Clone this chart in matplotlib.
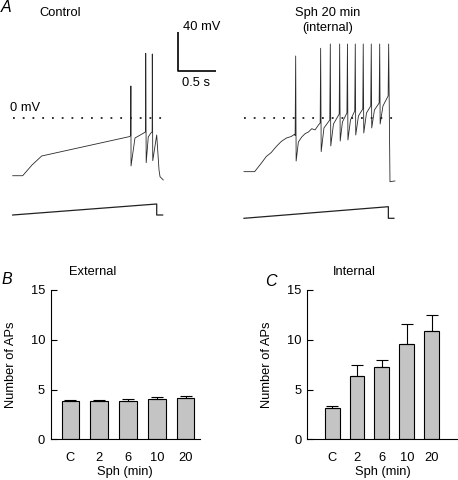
import matplotlib
matplotlib.use('Agg')
import matplotlib.pyplot as plt
import numpy as np

plt.rcParams['font.family'] = ['Liberation Sans', 'DejaVu Sans']
FS = 9.3

# ---- panel A: voltage traces (s, mV) ----
ctl_t = [0.000, 0.129, 0.250, 0.375, 1.508, 1.527, 1.529, 1.531, 1.582, 1.690,
         1.719, 1.721, 1.727, 1.754, 1.785, 1.804, 1.806, 1.812, 1.863, 1.893, 1.906, 1.948]
ctl_v = [-59.4, -59.4, -48.3, -39.0, -19.0, -18.0, 33.4, -49.3, -20.4, -15.5,
         -14.0, 67.2, -45.9, -19.3, -15.5, -14.0, 66.5, -43.8, -17.3, -53.5, -60.4, -63.8]

sph_t = [0.000, 0.138, 0.224, 0.288, 0.353, 0.418, 0.482, 0.547, 0.612, 0.656, 0.662,
         0.669, 0.675, 0.704, 0.748, 0.791, 0.834, 0.877, 0.920, 0.963, 0.986,
         0.992, 0.999, 1.035, 1.110, 1.117, 1.123, 1.158, 1.232, 1.238, 1.245,
         1.274, 1.332, 1.339, 1.345, 1.378, 1.433, 1.440, 1.446, 1.481, 1.537,
         1.543, 1.550, 1.585, 1.640, 1.647, 1.653, 1.688, 1.749, 1.756, 1.762,
         1.798, 1.865, 1.872, 1.889, 1.953]
sph_v = [-55.2, -55.2, -46.5, -39.6, -35.4, -29.2, -24.0, -20.5, -18.8, -16.5, -17.8,
         64.4, -44.2, -24.5, -19.3, -15.9, -14.2, -10.8, -12.0, -7.0, -4.9,
         72.4, -34.5, -10.0, -1.8, 76.8, -28.6, -5.9, 4.4, 76.8, -23.5,
         -3.8, 5.5, 76.8, -22.4, -1.8, 7.5, 76.8, -17.3, 2.4, 9.6,
         76.8, -15.2, 5.5, 12.7, 76.8, -10.0, 8.6, 15.8, 76.8, -5.9,
         12.7, 23.1, 76.8, -65.6, -64.8]
sph_offset = 2.992  # s, start of second trace on the shared time axis

# current ramp command (normalised)
ramp_ctl_t = [0.0, 1.863, 1.863, 1.940]
ramp_ctl = [0.0, 1.0, 0.0, 0.0]
ramp_sph_t = [0.0, 1.868, 1.868, 1.940]
ramp_sph = [-0.3, 0.755, -0.3, -0.3]

# ---- panels B, C ----
cats = ['C', '2', '6', '10', '20']
ext_mean = [3.86, 3.86, 3.86, 4.0, 4.16]
ext_err = [0.1, 0.1, 0.22, 0.3, 0.17]
int_mean = [3.11, 6.33, 7.3, 9.57, 10.91]
int_err = [0.27, 1.1, 0.63, 2.0, 1.6]

W, H = 458, 480
fig = plt.figure(figsize=(W / 100, H / 100), dpi=100)


def ftext(x, y, s, **kw):
    kw.setdefault('fontsize', FS)
    kw.setdefault('va', 'center')
    fig.text(x / W, 1 - y / H, s, **kw)


# trace axes
axA = fig.add_axes([0, 1 - 235 / H, 1, 235 / H])
axA.set_xlim(-0.1643, 5.761)
axA.set_ylim(-120.7, 122.3)
axA.axis('off')
lw_tr = 0.6
axA.plot(ctl_t, ctl_v, color='#2a2a2a', lw=lw_tr)
axA.plot(np.array(sph_t) + sph_offset, sph_v, color='#2a2a2a', lw=lw_tr)
axA.plot([0, 1.95], [0, 0], color='#222222', lw=1.3, linestyle=(0, (1, 4.4)))
axA.plot([sph_offset, sph_offset + 1.95], [0, 0], color='#222222', lw=1.3,
         linestyle=(0, (1, 4.4)))
# scale bar 40 mV / 0.5 s
axA.plot([2.135, 2.135, 2.635], [89.2, 49.2, 49.2], color='black', lw=1.2,
         solid_capstyle='butt')

axR = fig.add_axes([0, 1 - 225 / H, 1, 30 / H])
axR.set_xlim(-0.1643, 5.761)
axR.set_ylim(-0.909, 1.818)
axR.axis('off')
axR.plot(ramp_ctl_t, ramp_ctl, color='#222222', lw=0.9)
axR.plot(np.array(ramp_sph_t) + sph_offset, ramp_sph, color='#222222', lw=0.9)

ftext(6, 7, 'A', fontsize=11.5, style='italic', ha='center')
ftext(39, 12.7, 'Control', ha='left')
ftext(182.7, 27.3, '40 mV', ha='left')
ftext(181.7, 82.7, '0.5 s', ha='left')
ftext(10, 108.3, '0 mV', ha='left')
ftext(328, 12.7, 'Sph 20 min', ha='center')
ftext(328, 28.3, '(internal)', ha='center')


def bar_panel(rect, xlim, means, errs, width):
    ax = fig.add_axes(rect)
    x = np.arange(len(cats))
    ax.bar(x, means, width=width, color='#c4c4c4', edgecolor='black', linewidth=0.8,
           yerr=[np.zeros(len(errs)), errs], capsize=4,
           error_kw=dict(ecolor='black', elinewidth=0.8, capthick=0.8))
    ax.set_xlim(*xlim)
    ax.set_ylim(0, 15)
    ax.set_yticks([0, 5, 10, 15])
    ax.set_xticks(x)
    ax.set_xticklabels(cats)
    for s in ['top', 'right']:
        ax.spines[s].set_visible(False)
    for s in ['left', 'bottom']:
        ax.spines[s].set_linewidth(0.8)
    ax.tick_params(axis='y', direction='in', length=4.2, width=0.8, pad=4, labelsize=FS)
    ax.tick_params(axis='x', length=0, pad=9, labelsize=FS)
    ax.set_xlabel('Sph (min)', fontsize=FS, labelpad=1.5)
    ax.set_ylabel('Number of APs', fontsize=FS)
    ax.yaxis.set_label_coords(-0.228, 0.5)
    return ax


bar_panel([50.7 / W, 40.7 / H, 149.3 / W, 149.3 / H], (-0.68, 4.5), ext_mean, ext_err, 0.61)
axC = bar_panel([307 / W, 40.7 / H, 151 / W, 149.3 / H], (-1.01, 5.06), int_mean, int_err, 0.6)
axC.yaxis.set_label_coords(-0.225, 0.5)

ftext(92.8, 271.7, 'External', ha='center')
ftext(354, 271.7, 'Internal', ha='center')
ftext(6.7, 279, 'B', fontsize=11.5, style='italic', ha='center')
ftext(271.3, 281, 'C', fontsize=11.5, style='italic', ha='center')

fig.savefig('out.png', dpi=100)
